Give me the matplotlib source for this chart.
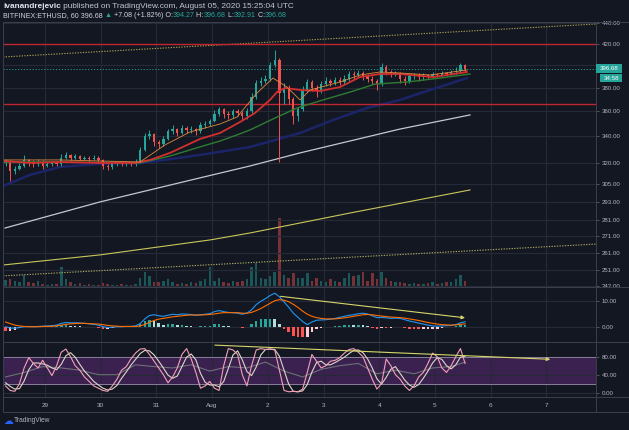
import numpy as np
import matplotlib
matplotlib.use("Agg")
import matplotlib.pyplot as plt
from matplotlib.lines import Line2D
from matplotlib.patches import Rectangle, FancyArrowPatch
from matplotlib.ticker import FixedLocator, NullLocator, FuncFormatter

plt.rcParams['font.family'] = ['Liberation Sans', 'DejaVu Sans']

# ---------------- data ----------------
START_DAY = -0.75      # first candle: Jul 28 06:00 (days counted from Jul 29 00:00)
BAR_DAYS = 1 / 12      # 2-hour candles

first_open = 320.0
close = [321, 314, 316, 318, 322, 320, 319, 321, 318, 319,
         320, 319, 324, 326, 324, 325, 323, 324, 323, 324,
         322, 318, 317, 319, 320, 319, 320, 319, 321, 330,
         340, 342, 336, 334, 338, 344, 346, 343, 347, 345,
         346, 344, 349, 350, 352, 358, 362, 358, 357, 360,
         359, 356, 360, 372, 384, 386, 388, 400, 405, 375,
         380, 370, 356, 362, 378, 385, 380, 377, 383, 386,
         384, 387, 385, 388, 392, 391, 393, 390, 388, 386,
         383, 398, 394, 392, 393, 388, 386, 390, 391, 389,
         391, 390, 392, 391, 393, 392, 394, 395, 400, 396.68]
high = [323, 322, 318, 320, 326, 323, 322, 323, 322, 321,
        321, 321, 327, 328, 327, 327, 326, 325, 325, 326,
        325, 323, 319, 320, 321, 321, 321, 321, 323, 332,
        343, 345, 343, 337, 340, 346, 349, 347, 349, 348,
        348, 347, 351, 352, 354, 361, 364, 363, 360, 362,
        362, 360, 363, 375, 387, 389, 391, 403, 414, 407,
        384, 382, 372, 364, 381, 388, 387, 382, 386, 389,
        388, 389, 389, 391, 395, 395, 396, 395, 392, 390,
        388, 402, 400, 396, 395, 394, 390, 392, 393, 393,
        393, 392, 394, 393, 395, 394, 396, 398, 402, 401]
low = [318, 307, 312, 315, 317, 318, 317, 318, 316, 317,
       318, 318, 318, 323, 322, 323, 322, 322, 321, 322,
       320, 316, 315, 316, 318, 318, 318, 318, 318, 320,
       329, 338, 333, 331, 333, 337, 342, 340, 342, 343,
       343, 341, 343, 347, 348, 351, 356, 355, 354, 355,
       356, 353, 354, 359, 370, 381, 384, 386, 398, 321,
       366, 366, 350, 352, 360, 376, 377, 372, 375, 381,
       381, 382, 382, 383, 386, 388, 389, 387, 385, 383,
       378, 381, 391, 389, 390, 384, 382, 384, 388, 386,
       387, 388, 389, 389, 390, 390, 391, 392, 394, 394]
volume = [2.3, 2.5, 2.0, 1.5, 4.0, 1.8, 1.2, 2.0, 1.0, 0.8,
          0.9, 1.0, 6.5, 2.5, 1.5, 1.0, 1.2, 0.8, 1.0, 0.7,
          0.8, 1.2, 1.0, 0.7, 0.8, 0.9, 0.7, 0.6, 1.0, 3.0,
          5.0, 3.5, 1.5, 1.8, 2.0, 2.5, 1.5, 1.0, 1.2, 1.0,
          1.5, 1.2, 2.0, 2.5, 6.8, 2.0, 3.0, 1.5, 1.2, 2.0,
          1.5, 2.0, 2.5, 6.5, 8.0, 3.0, 2.5, 3.5, 5.0, 23.0,
          4.0, 3.0, 4.5, 3.0, 3.0, 4.5, 2.0, 3.0, 2.0, 1.5,
          2.5, 2.0, 1.8, 3.0, 4.5, 3.5, 4.0, 5.0, 2.0, 4.5,
          2.5, 5.0, 3.0, 2.0, 1.5, 1.5, 1.2, 1.0, 1.2, 1.0,
          1.0, 1.2, 1.5, 1.0, 1.2, 1.5, 1.8, 2.5, 4.0, 2.0]

# moving averages (day, price)
ema_fast_t = [-0.754, 0.269, 1.706, 2.154, 2.603, 3.142, 3.447, 3.806, 4.093, 4.345, 4.578, 4.758, 5.296, 5.655, 6.014, 6.373, 6.912, 7.576]
ema_fast_p = [322.3, 322.3, 320.8, 333.5, 343.5, 349.8, 355.4, 375.4, 388.4, 380.5, 369.5, 378.0, 384.9, 391.1, 393.8, 392.9, 391.1, 395.6]
ema20_t = [-0.754, -0.269, 0.269, 0.987, 1.616, 1.885, 2.244, 2.783, 3.142, 3.501, 3.770, 4.039, 4.165, 4.309, 4.578, 4.937, 5.296, 5.655, 6.014, 6.373, 6.966, 7.576]
ema20_p = [321.5, 320.1, 320.8, 320.1, 320.1, 322.3, 327.5, 338.1, 342.7, 351.4, 358.7, 369.5, 376.2, 379.7, 378.0, 377.1, 380.5, 389.3, 392.0, 392.0, 389.3, 393.8]
ema50_t = [-0.754, 0.269, 1.706, 2.244, 2.837, 3.142, 3.447, 3.680, 4.129, 4.524, 4.991, 5.476, 5.925, 6.499, 7.092, 7.630]
ema50_p = [320.8, 320.8, 320.1, 325.2, 332.7, 336.5, 341.2, 345.1, 354.6, 362.8, 369.5, 376.2, 383.1, 384.9, 388.4, 392.0]
ema100_t = [-0.754, -0.269, 0.269, 0.934, 1.759, 2.783, 3.680, 4.578, 5.171, 5.781, 6.373, 6.966, 7.576]
ema100_p = [303.7, 311.5, 317.2, 319.3, 320.1, 326.0, 331.9, 342.7, 353.0, 362.8, 369.5, 378.8, 388.4]
ma200_t = [-0.718, 0.987, 2.783, 3.680, 4.578, 6.373, 7.630]
ma200_p = [276.0, 292.9, 309.4, 317.9, 327.5, 345.8, 357.1]
ma_long_t = [-0.754, 0.987, 2.962, 3.680, 5.476, 7.630]
ma_long_p = [253.7, 259.6, 268.6, 272.9, 285.6, 301.0]

upper_trend_t = [-0.754, 9.892]
upper_trend_p = [407.5, 439.3]
lower_trend_t = [-0.754, 9.892]
lower_trend_p = [247.5, 266.1]
resistance = 420.0
support = 366.0
last_price = 396.68

# MACD panel
macd = [0.0, -0.5, -0.6, -0.3, 0.0, 0.1, 0.0, 0.1, 0.2, 0.3,
        0.4, 0.6, 1.3, 1.6, 1.5, 1.5, 1.4, 1.3, 1.1, 0.9,
        0.6, 0.0, -0.3, -0.2, 0.0, 0.0, 0.1, 0.1, 0.3, 1.2,
        3.0, 4.3, 4.6, 4.2, 4.0, 4.4, 4.8, 4.6, 4.9, 4.8,
        4.7, 4.4, 4.6, 4.8, 5.0, 5.8, 6.2, 5.8, 5.5, 5.4,
        5.2, 4.8, 5.2, 6.5, 8.5, 9.8, 10.8, 12.0, 12.9, 11.5,
        9.5, 7.5, 5.2, 3.6, 2.0, 0.8, 1.8, 2.5, 2.6, 2.7,
        2.9, 3.2, 3.6, 4.0, 4.4, 4.6, 5.0, 5.2, 4.9, 4.2,
        3.5, 3.6, 3.4, 3.2, 3.3, 3.2, 2.7, 2.2, 1.8, 1.4,
        1.0, 0.6, 0.3, 0.2, 0.3, 0.4, 0.5, 0.8, 1.5, 1.9]
signal = [1.8, 1.2, 0.6, 0.3, 0.1, 0.0, 0.0, 0.0, 0.1, 0.1,
          0.2, 0.3, 0.6, 0.9, 1.1, 1.2, 1.3, 1.3, 1.2, 1.1,
          1.0, 0.8, 0.5, 0.3, 0.2, 0.1, 0.1, 0.1, 0.1, 0.3,
          0.9, 1.7, 2.4, 2.9, 3.2, 3.5, 3.8, 4.0, 4.2, 4.4,
          4.5, 4.5, 4.5, 4.6, 4.7, 4.9, 5.2, 5.4, 5.4, 5.4,
          5.4, 5.2, 5.2, 5.5, 6.2, 7.0, 8.0, 9.0, 10.0, 10.4,
          10.2, 9.6, 8.6, 7.4, 6.0, 4.8, 4.0, 3.5, 3.2, 3.0,
          3.0, 3.0, 3.2, 3.4, 3.7, 4.0, 4.3, 4.6, 4.7, 4.6,
          4.3, 4.1, 3.9, 3.7, 3.6, 3.5, 3.3, 3.0, 2.7, 2.4,
          2.0, 1.6, 1.3, 1.0, 0.8, 0.7, 0.6, 0.7, 0.9, 1.1]
macd_arrow_t = [4.18, 7.59]
macd_arrow_v = [11.8, 3.3]

# Stochastic RSI panel
stoch_k = [15, 5, 3, 20, 55, 78, 65, 55, 72, 55,
           38, 60, 90, 97, 80, 60, 50, 35, 25, 15,
           10, 5, 3, 15, 30, 50, 58, 75, 88, 97,
           98, 85, 70, 55, 40, 22, 35, 55, 85, 98,
           75, 45, 10, 15, 25, 10, 5, 60, 98, 95,
           85, 40, 15, 60, 95, 98, 96, 97, 95, 50,
           5, 2, 3, 2, 8, 45, 85, 70, 55, 60,
           70, 72, 78, 88, 96, 98, 90, 80, 55, 30,
           8, 20, 75, 60, 40, 30, 15, 5, 15, 35,
           45, 65, 88, 80, 55, 45, 60, 80, 98, 65]
stoch_d = [22, 14, 8, 9, 26, 51, 66, 66, 64, 61,
           55, 51, 63, 82, 89, 79, 63, 48, 37, 25,
           17, 10, 6, 8, 16, 32, 46, 61, 74, 87,
           94, 93, 84, 70, 55, 39, 32, 37, 58, 79,
           86, 73, 43, 23, 17, 17, 13, 25, 54, 84,
           93, 73, 47, 38, 57, 84, 96, 97, 96, 81,
           50, 19, 3, 2, 4, 18, 46, 67, 70, 62,
           62, 67, 73, 79, 87, 94, 95, 89, 75, 55,
           31, 19, 34, 52, 58, 43, 28, 17, 12, 18,
           32, 48, 66, 78, 74, 60, 53, 62, 79, 81]
rsi_bar = [0, 4, 8, 12, 16, 20, 24, 28, 32, 36, 40, 44, 48, 52, 56, 60, 64, 68, 72, 76, 80, 84, 88, 92, 96, 99]
rsi_val = [35, 45, 58, 55, 50, 40, 40, 62, 58, 55, 62, 48, 58, 55, 68, 48, 35, 52, 60, 65, 42, 50, 42, 55, 58, 68]
stoch_arrow_t = [3.0, 9.12]
stoch_arrow_v = [106, 74]

day_ticks = [0, 1, 2, 3, 4, 5, 6, 7, 8, 9]
day_labels = ['29', '30', '31', 'Aug', '2', '3', '4', '5', '6', '7']
price_ticks = [242, 251, 261, 271, 281, 293, 305, 320, 340, 360, 380, 400, 420, 440]
hidden_price_label = 400      # covered by the last-price tag
macd_ticks = [0, 10]
stoch_ticks = [0, 40, 80]

# ---------------- style ----------------
W, H = 629, 430
BG = '#131722'
GRID = '#262a36'
BORDER = '#3a3e4a'
TXT = '#b2b5be'
UP = '#26a69a'
DN = '#ef5350'

fig = plt.figure(figsize=(W / 100, H / 100), dpi=100)
fig.patch.set_facecolor(BG)

def fx(px):
    return px / W

def fy(py):
    return 1 - py / H

XL, XR = 3, 596
ax = fig.add_axes([fx(XL), fy(287), (XR - XL) / W, (287 - 22) / H])
axm = fig.add_axes([fx(XL), fy(342), (XR - XL) / W, (342 - 287) / H], sharex=ax)
axs = fig.add_axes([fx(XL), fy(397), (XR - XL) / W, (397 - 342) / H], sharex=ax)

n = len(close)
bar_t = START_DAY + (np.arange(n) + 0.5) * BAR_DAYS
c = np.array(close, float)
o = np.concatenate([[first_open], c[:-1]])
hi = np.array(high, float)
lo = np.array(low, float)
up = c >= o
col = np.where(up, UP, DN)

# volume (twin axis, behind the price panel)
axv = ax.twinx()
axv.set_ylim(0, 88)
axv.bar(bar_t, volume, width=BAR_DAYS * 0.55, color=col, alpha=0.45, zorder=1)
axv.axis('off')
ax.set_zorder(axv.get_zorder() + 1)

for a in (ax, axm, axs):
    a.set_facecolor('none')
    for s in a.spines.values():
        s.set_visible(False)
    a.set_xlim(-0.754, 9.892)
    a.set_xticks(day_ticks)
    a.grid(True, axis='x', color=GRID, lw=0.8, zorder=0)
    a.yaxis.tick_right()
    a.tick_params(axis='y', which='both', left=False, labelleft=False, right=True,
                  labelright=True, length=2.5, width=0.6, color='#5d606b',
                  labelsize=4.4, labelcolor=TXT, pad=1.5)
    a.tick_params(axis='x', length=0, labelbottom=False)

# main price panel
ax.set_yscale('log')
ax.set_ylim(241.3, 441.3)
ax.yaxis.set_major_locator(FixedLocator(price_ticks))
ax.yaxis.set_minor_locator(NullLocator())
ax.yaxis.set_major_formatter(FuncFormatter(
    lambda v, p: '' if abs(v - hidden_price_label) < 0.5 else f'{v:.2f}'))
ax.grid(True, axis='y', color=GRID, lw=0.8, zorder=0)

ax.plot(ma_long_t, ma_long_p, color='#c8c85a', lw=0.8, zorder=3)
ax.plot(lower_trend_t, lower_trend_p, color='#a8a860', lw=0.8, ls=(0, (1.2, 1.2)), zorder=3)
ax.plot(upper_trend_t, upper_trend_p, color='#a89a50', lw=0.8, ls=(0, (1.2, 1.2)), zorder=3)
ax.plot(ma200_t, ma200_p, color='#c5c8cf', lw=0.9, zorder=3)
ax.plot(ema100_t, ema100_p, color='#1c2468', lw=1.8, zorder=3)
ax.axhline(resistance, color='#c0262f', lw=1.0, zorder=3)
ax.axhline(support, color='#c0262f', lw=1.0, zorder=3)
ax.axhline(last_price, color=UP, lw=0.6, ls=(0, (1.5, 2)), zorder=3)

ax.vlines(bar_t, lo, hi, colors=col, lw=0.7, zorder=4)
ax.bar(bar_t, np.maximum(np.abs(c - o), 0.4), bottom=np.minimum(o, c),
       width=BAR_DAYS * 0.5, color=col, zorder=5)

ax.plot(ema50_t, ema50_p, color='#2e7d32', lw=1.0, zorder=6)
ax.plot(ema20_t, ema20_p, color='#d32f2f', lw=1.3, zorder=6)
ax.plot(ema_fast_t, ema_fast_p, color='#e08a3c', lw=0.6, zorder=6)

# MACD panel
axm.set_ylim(-5.88, 15.27)
axm.set_yticks(macd_ticks)
axm.yaxis.set_major_formatter(FuncFormatter(lambda v, p: f'{v:.2f}'))
axm.grid(True, axis='y', color=GRID, lw=0.8, zorder=0)
m = np.array(macd)
sg = np.array(signal)
hist = m - sg
prev = np.concatenate([[0.0], hist[:-1]])
hcol = np.where(hist >= 0, np.where(hist >= prev, '#26a69a', '#b2dfdb'),
                np.where(hist < prev, '#ff5252', '#ffcdd2'))
axm.bar(bar_t, hist, width=BAR_DAYS * 0.55, color=hcol, zorder=2)
axm.plot(bar_t, m, color='#2196f3', lw=0.8, zorder=3)
axm.plot(bar_t, sg, color='#ff6d00', lw=0.8, zorder=3)
axm.add_patch(FancyArrowPatch((macd_arrow_t[0], macd_arrow_v[0]), (macd_arrow_t[1], macd_arrow_v[1]),
                              arrowstyle='-|>', mutation_scale=5, color='#d6d66a', lw=0.8, zorder=4))

# Stochastic RSI panel
axs.set_ylim(-9.6, 112.7)
axs.set_yticks(stoch_ticks)
axs.yaxis.set_major_formatter(FuncFormatter(lambda v, p: f'{v:.2f}'))
axs.grid(True, axis='y', color=GRID, lw=0.8, zorder=0)
axs.axhspan(20, 80, color='#3b2150', zorder=1, lw=0)
axs.axhline(80, color='#8a7f9e', lw=0.7, zorder=2)
axs.axhline(20, color='#8a7f9e', lw=0.7, zorder=2)
axs.plot(bar_t[rsi_bar], rsi_val, color='#6e6f78', lw=0.8, zorder=3)
axs.plot(bar_t, stoch_d, color='#ddd6c8', lw=0.8, zorder=4)
axs.plot(bar_t, stoch_k, color='#f3a0b8', lw=0.8, zorder=5)
axs.add_patch(FancyArrowPatch((stoch_arrow_t[0], stoch_arrow_v[0]), (stoch_arrow_t[1], stoch_arrow_v[1]),
                              arrowstyle='-|>', mutation_scale=5, color='#d6d66a', lw=0.8, zorder=6))
axs.set_xticklabels(day_labels)
axs.tick_params(axis='x', labelbottom=True, labelsize=4.6, labelcolor=TXT, pad=4.5)

# frame lines
def fline(x0, y0, x1, y1, color=BORDER, lw=0.75):
    fig.add_artist(Line2D([fx(x0), fx(x1)], [fy(y0), fy(y1)], color=color, lw=lw,
                          transform=fig.transFigure, zorder=4))

for yy in (22, 287, 342, 397, 412):
    fline(XL, yy, W, yy)
fline(XL, 22, XL, 412)
fline(XR, 22, XR, 412)

# price tags
def tag(x0, x1, y0, y1, s):
    fig.add_artist(Rectangle((fx(x0), fy(y1)), (x1 - x0) / W, (y1 - y0) / H,
                             transform=fig.transFigure, color=UP, zorder=6, lw=0))
    fig.text(fx((x0 + x1) / 2), fy((y0 + y1) / 2), s, color='white', fontsize=4.4,
             ha='center', va='center', zorder=7)

tag(596, 622, 64, 72.5, '396.68')
tag(600, 622, 74, 82, '34:58')

# header
renderer = fig.canvas.get_renderer()

def seq_text(x_px, y_px, parts, size):
    x = x_px
    for s, cc, w in parts:
        t = fig.text(fx(x), fy(y_px), s, color=cc, fontsize=size, fontweight=w,
                     ha='left', va='center')
        x += t.get_window_extent(renderer=renderer).width

seq_text(3, 6, [('ivanandrejevic', '#e0e3eb', 'bold'),
                (' published on TradingView.com, August 05, 2020 15:25:04 UTC', '#c3c6ce', 'normal')], 5.95)
seq_text(3, 15.5, [('BITFINEX:ETHUSD, 60 396.68 ', '#d1d4dc', 'normal'),
                   ('▲', UP, 'normal'),
                   (' +7.08 (+1.82%) O:', '#d1d4dc', 'normal'),
                   ('394.27', UP, 'normal'), (' H:', '#d1d4dc', 'normal'),
                   ('396.68', UP, 'normal'), (' L:', '#d1d4dc', 'normal'),
                   ('392.91', UP, 'normal'), (' C:', '#d1d4dc', 'normal'),
                   ('396.68', UP, 'normal')], 5.1)

# logo
fig.text(fx(3), fy(421), '☁', color='#2962ff', fontsize=7, ha='left', va='center',
         family=['DejaVu Sans'])
fig.text(fx(14), fy(421), 'TradingView', color=TXT, fontsize=4.8, ha='left', va='center')

fig.savefig('out.png', dpi=100, facecolor=BG)
